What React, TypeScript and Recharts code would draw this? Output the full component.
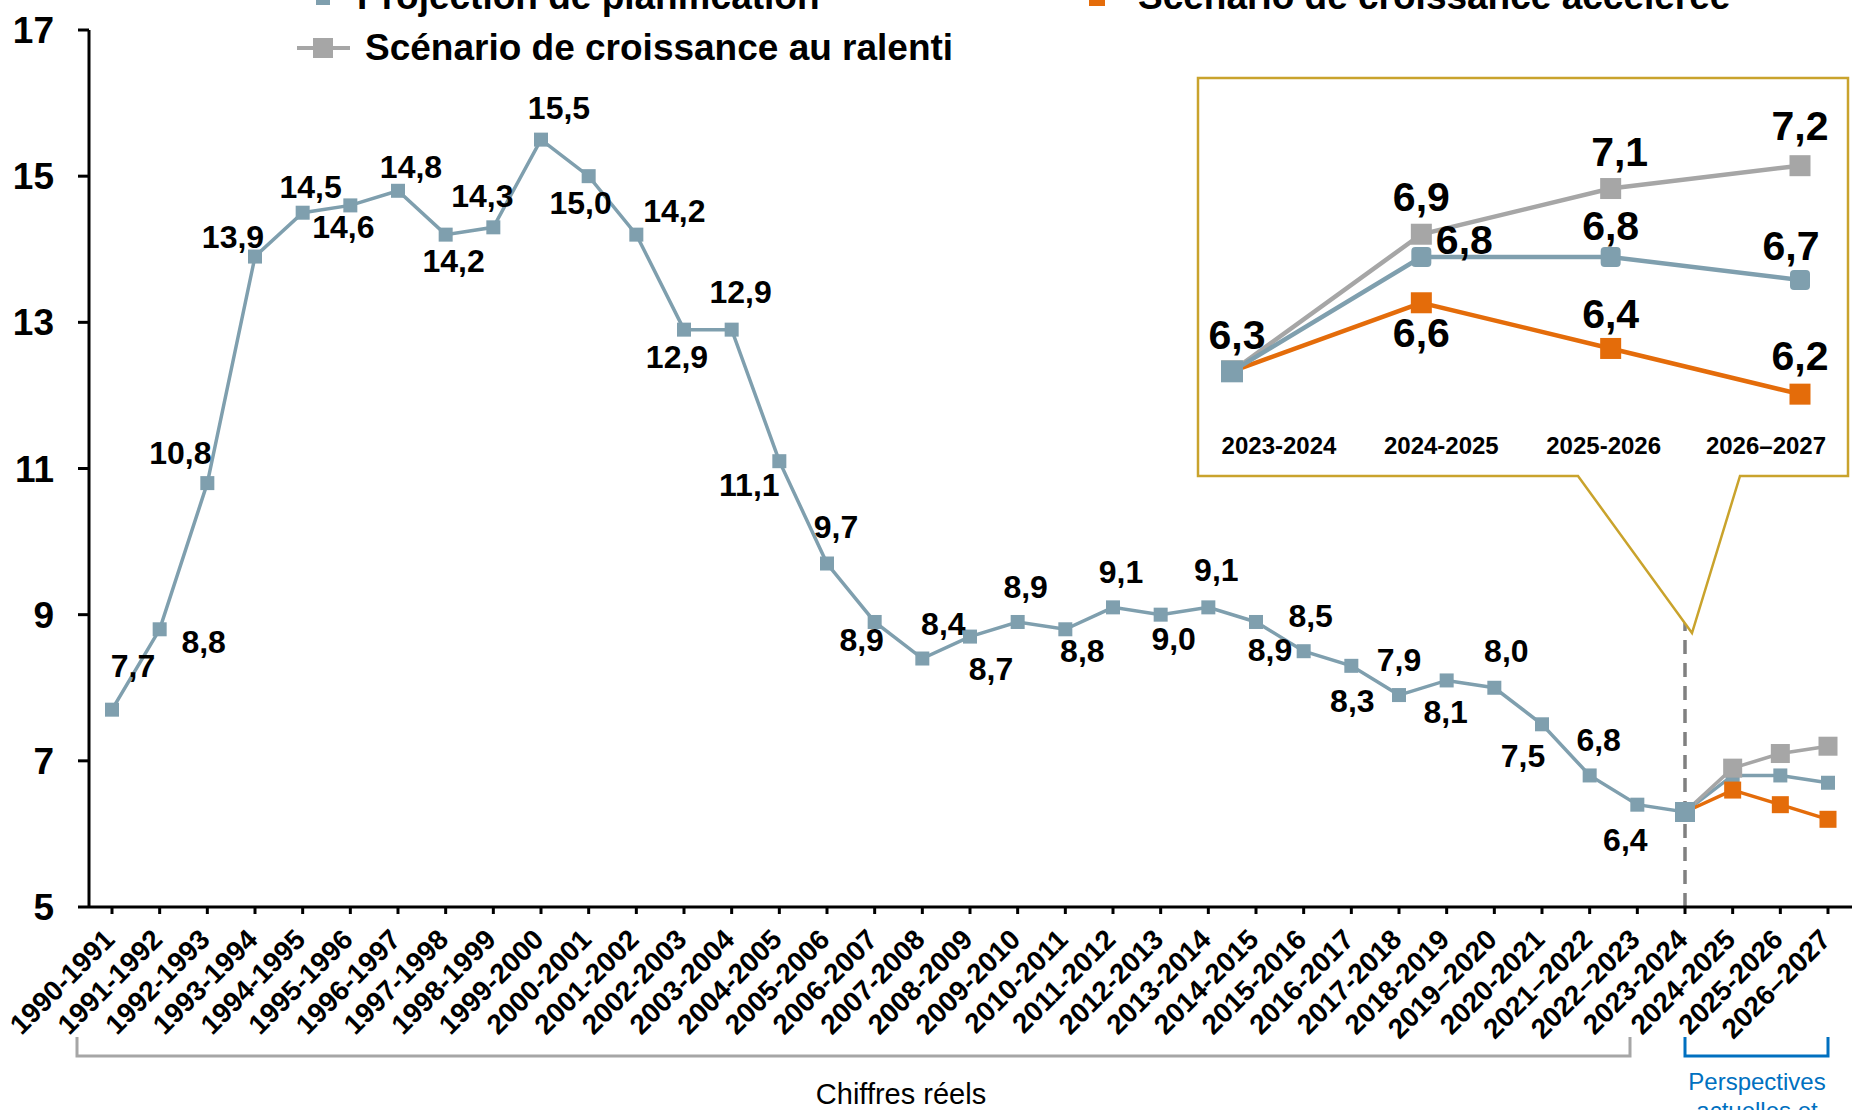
import React from 'react';
import { LineChart, Line, XAxis, YAxis, ReferenceLine, ReferenceDot, LabelList } from 'recharts';

const FONT = '"Liberation Sans", Arial, Helvetica, sans-serif';

// Catégories (années scolaires)
const categories = [
  '1990-1991', '1991-1992', '1992-1993', '1993-1994', '1994-1995', '1995-1996', '1996-1997',
  '1997-1998', '1998-1999', '1999-2000', '2000-2001', '2001-2002', '2002-2003', '2003-2004',
  '2004-2005', '2005-2006', '2006-2007', '2007-2008', '2008-2009', '2009-2010', '2010-2011',
  '2011-2012', '2012-2013', '2013-2014', '2014-2015', '2015-2016', '2016-2017', '2017-2018',
  '2018-2019', '2019–2020', '2020-2021', '2021–2022', '2022–2023', '2023-2024', '2024-2025',
  '2025-2026', '2026–2027',
];

// Projection de planification (chiffres réels puis projection)
const projection = [
  7.7, 8.8, 10.8, 13.9, 14.5, 14.6, 14.8, 14.2, 14.3, 15.5, 15.0, 14.2, 12.9, 12.9, 11.1, 9.7,
  8.9, 8.4, 8.7, 8.9, 8.8, 9.1, 9.0, 9.1, 8.9, 8.5, 8.3, 7.9, 8.1, 8.0, 7.5, 6.8, 6.4, 6.3,
  6.8, 6.8, 6.7,
];

// Scénarios (à partir de 2023-2024)
const forecastCategories = ['2023-2024', '2024-2025', '2025-2026', '2026–2027'];
const accelere = [6.3, 6.6, 6.4, 6.2];
const ralenti = [6.3, 6.9, 7.1, 7.2];

const yTicks = [5, 7, 9, 11, 13, 15, 17];

const BLUE = '#7f9fae';
const ORANGE = '#e46c0a';
const GRAY = '#a6a6a6';
const GOLD = '#c9a32c';
const DARK_BLUE = '#0070c0';

// position des étiquettes (dx, dy) par rapport au point
const mainLabelOffsets = [
  [21, -44], [44, 13], [-27, -30], [-22, -20], [8, -26], [-7, 22], [13, -24], [8, 26],
  [-11, -31], [18, -32], [-8, 27], [38, -24], [-7, 27], [9, -38], [-30, 24], [9, -37],
  [-13, 18], [21, -35], [21, 32], [8, -35], [17, 22], [8, -35], [13, 24], [8, -37],
  [14, 28], [7, -35], [1, 35], [0, -35], [-1, 32], [12, -37], [-19, 32], [9, -35], [-12, 35],
];
const insetProjOffsets = [[5, -36], [43, -17], [0, -31], [-9, -34]];
const insetAccOffsets = [null, [0, 30], [0, -34], [0, -38]];
const insetRalOffsets = [null, [0, -37], [9, -37], [0, -40]];

const mainData = categories.map((cat, i) => {
  const f = forecastCategories.indexOf(cat);
  return {
    cat,
    proj: projection[i],
    acc: f >= 0 ? accelere[f] : null,
    ral: f >= 0 ? ralenti[f] : null,
  };
});

const insetData = forecastCategories.map((cat, i) => ({
  cat,
  proj: projection[categories.indexOf(cat)],
  acc: accelere[i],
  ral: ralenti[i],
}));

const fmt = (v: number) => v.toFixed(1).replace('.', ',');

const squareDot = (color: string, size: number, fromIndex = 0, rx = 0, bigIndex = -1, bigSize = 0) => (props: any) => {
  const { cx, cy, index } = props;
  if (cx == null || cy == null || index < fromIndex) return <g key={`d-${index}`} />;
  const s = index === bigIndex ? bigSize : size;
  return (
    <rect key={`d-${index}`} x={cx - s / 2} y={cy - s / 2} width={s} height={s} rx={index === bigIndex ? 0 : rx} fill={color} />
  );
};

const offsetLabel = (offsets: any[], fontSize: number) => (props: any) => {
  const { value, index } = props;
  const x = props.x ?? props.viewBox?.x;
  const y = props.y ?? props.viewBox?.y;
  const o = offsets[index];
  if (!o || value == null || x == null) return null;
  return (
    <text key={`l-${index}`} x={x + o[0]} y={y + o[1]} textAnchor="middle" dominantBaseline="central"
      fontSize={fontSize} fontWeight={700} fill="#000" fontFamily={FONT}>
      {fmt(value)}
    </text>
  );
};

function XTick({ x, y, payload }: any) {
  return (
    <g transform={`translate(${x - 10},${y + 11})`}>
      <text transform="rotate(-45)" textAnchor="end" dy="0.72em" fontSize={28} fontWeight={700} fill="#000" fontFamily={FONT}>
        {payload.value}
      </text>
    </g>
  );
}

function InsetTick({ x, y, payload }: any) {
  return (
    <text x={x} y={y - 4} textAnchor="middle" dominantBaseline="central" fontSize={24} fontWeight={700} fill="#000" fontFamily={FONT}>
      {payload.value}
    </text>
  );
}

export default function App() {
  return (
    <div style={{ position: 'absolute', left: 0, top: 0, width: 1855, height: 1110, overflow: 'hidden', background: '#fff', fontFamily: FONT }}>
      {/* graphique principal */}
      <div style={{ position: 'absolute', left: 0, top: 0 }}>
        <LineChart width={1855} height={1110} data={mainData} margin={{ top: 30, right: 3, left: 0, bottom: 0 }}>
          <XAxis
            dataKey="cat"
            interval={0}
            height={203}
            padding={{ left: 23, right: 24 }}
            axisLine={{ stroke: '#000', strokeWidth: 3 }}
            tickLine={{ stroke: '#000', strokeWidth: 3 }}
            tickSize={7}
            tick={<XTick />}
          />
          <YAxis
            type="number"
            width={89}
            domain={[5, 17]}
            ticks={yTicks}
            allowDataOverflow
            axisLine={{ stroke: '#000', strokeWidth: 3 }}
            tickLine={{ stroke: '#000', strokeWidth: 3 }}
            tickSize={11}
            tickMargin={24}
            tick={{ fontSize: 37, fontWeight: 700, fill: '#000', fontFamily: FONT }}
          />
          <ReferenceLine
            segment={[{ x: '2023-2024', y: 5 }, { x: '2023-2024', y: 8.9 }]}
            stroke="#808080"
            strokeWidth={3.5}
            strokeDasharray="14 9"
            ifOverflow="visible"
          />
          <Line dataKey="proj" stroke={BLUE} strokeWidth={3.5} isAnimationActive={false}
            dot={squareDot(BLUE, 14)} activeDot={false}>
            <LabelList dataKey="proj" content={offsetLabel(mainLabelOffsets, 32)} />
          </Line>
          <Line dataKey="acc" stroke={ORANGE} strokeWidth={3.5} isAnimationActive={false}
            dot={squareDot(ORANGE, 17, 34)} activeDot={false} connectNulls={false} />
          <Line dataKey="ral" stroke={GRAY} strokeWidth={3.5} isAnimationActive={false}
            dot={squareDot(GRAY, 19, 34)} activeDot={false} connectNulls={false} />
          <ReferenceDot x="2023-2024" y={projection[33]} ifOverflow="visible"
            shape={(p: any) => <rect x={p.cx - 10} y={p.cy - 10} width={20} height={20} fill={BLUE} />} />
        </LineChart>
      </div>

      {/* annotations : légende, encadré, accolades */}
      <svg width={1855} height={1110} style={{ position: 'absolute', left: 0, top: 0 }} fontFamily={FONT}>
        <line x1={297} x2={350} y1={-2} y2={-2} stroke={BLUE} strokeWidth={4} />
        <rect x={316} y={-9} width={14} height={14} fill={BLUE} />
        <text x={357} y={9} fontSize={37} fontWeight={700} fill="#000">Projection de planification</text>
        <line x1={1070} x2={1124} y1={-2} y2={-2} stroke={ORANGE} strokeWidth={4} />
        <rect x={1089} y={-10} width={16} height={16} fill={ORANGE} />
        <text x={1138} y={9} fontSize={37} fontWeight={700} fill="#000">Scénario de croissance accélérée</text>
        <line x1={297} x2={350} y1={48} y2={48} stroke={GRAY} strokeWidth={4} />
        <rect x={313} y={38} width={20} height={20} fill={GRAY} />
        <text x={365} y={60} fontSize={37} fontWeight={700} fill="#000">Scénario de croissance au ralenti</text>

        <polygon points="1198,78 1848,78 1848,476 1740,476 1692,633 1578,476 1198,476" fill="#fff" stroke={GOLD} strokeWidth={2.5} />

        <path d="M77,1037 V1056 H1630 V1037" fill="none" stroke={GRAY} strokeWidth={3} />
        <text x={901} y={1104} textAnchor="middle" fontSize={29} fill="#000">Chiffres réels</text>
        <path d="M1685,1037 V1056 H1828 V1037" fill="none" stroke={DARK_BLUE} strokeWidth={3} />
        <text x={1757} y={1090} textAnchor="middle" fontSize={24} fill={DARK_BLUE}>Perspectives</text>
        <text x={1757} y={1119} textAnchor="middle" fontSize={24} fill={DARK_BLUE}>actuelles et</text>
      </svg>

      {/* encadré agrandi */}
      <div style={{ position: 'absolute', left: 1198, top: 77 }}>
        <LineChart width={651} height={400} data={insetData} margin={{ top: 43, right: 49, left: 34, bottom: 0 }}>
          <XAxis dataKey="cat" hide />
          <XAxis xAxisId="lbl" dataKey="cat" height={60} interval={0} padding={{ left: 47, right: 34 }}
            axisLine={false} tickLine={false} tickSize={0} tick={<InsetTick />} />
          <YAxis type="number" hide domain={[6.1, 7.4]} allowDataOverflow />
          <Line dataKey="ral" stroke={GRAY} strokeWidth={4.5} isAnimationActive={false}
            dot={squareDot(GRAY, 21)} activeDot={false}>
            <LabelList dataKey="ral" content={offsetLabel(insetRalOffsets, 41)} />
          </Line>
          <Line dataKey="acc" stroke={ORANGE} strokeWidth={4.5} isAnimationActive={false}
            dot={squareDot(ORANGE, 21)} activeDot={false}>
            <LabelList dataKey="acc" content={offsetLabel(insetAccOffsets, 41)} />
          </Line>
          <Line dataKey="proj" stroke={BLUE} strokeWidth={4.5} isAnimationActive={false}
            dot={squareDot(BLUE, 20, 0, 4, 0, 22)} activeDot={false}>
            <LabelList dataKey="proj" content={offsetLabel(insetProjOffsets, 41)} />
          </Line>
        </LineChart>
      </div>
    </div>
  );
}
